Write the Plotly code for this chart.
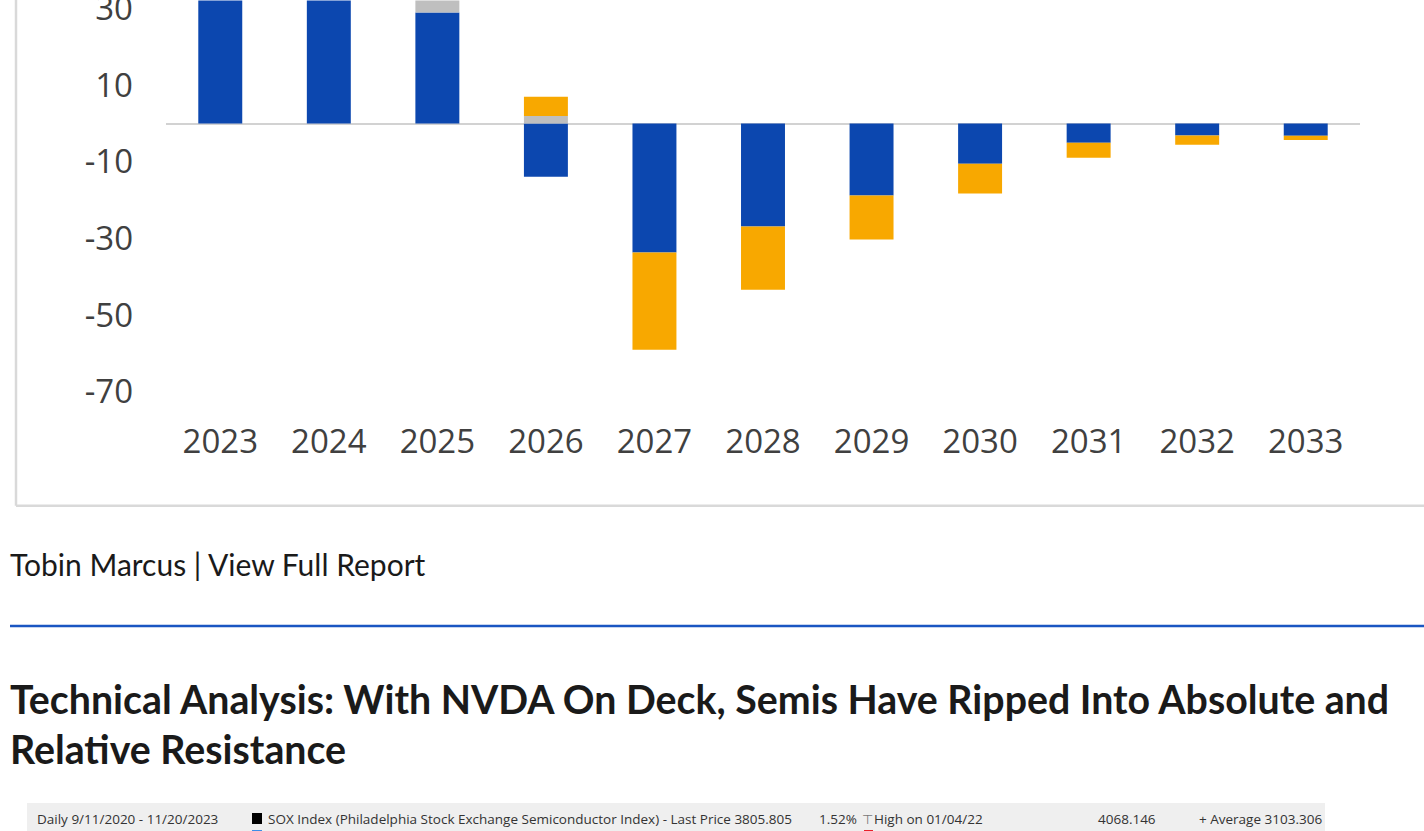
import plotly.graph_objects as go

W, H = 1424, 860

# ---- data ----
years = ["2023", "2024", "2025", "2026", "2027", "2028", "2029", "2030", "2031", "2032", "2033"]
blue_vals = [42.0, 38.0, 29.0, -13.9, -33.7, -26.9, -18.8, -10.5, -5.0, -3.1, -3.2]
gray_vals = [0.0, 0.0, 4.0, 2.0, 0.0, 0.0, 0.0, 0.0, 0.0, 0.0, 0.0]
orange_vals = [0.0, 0.0, 0.0, 5.0, -25.4, -16.5, -11.5, -7.8, -3.9, -2.4, -1.1]
tick_vals = [-70, -50, -30, -10, 10, 30]
tick_text = ["-70", "-50", "-30", "-10", "10", "30"]

byline = "Tobin Marcus | View Full Report"
heading_1 = "Technical Analysis: With NVDA On Deck, Semis Have Ripped Into Absolute and"
heading_2 = "Relative Resistance"
bbg_left = [
    ("Daily 9/11/2020 - 11/20/2023", 35),
    ("SOX Index (Philadelphia Stock Exchange Semiconductor Index) - Last Price 3805.805", 266),
    ("1.52%", 817),
    ("High on 01/04/22", 872),
]
bbg_right = [
    ("4068.146", 1158),
    ("+ Average 3103.306", 1324),
]

VS = 0.968   # vertical factor observed between page and photo
SHIFT = 15   # px the graph div is moved up


def D(y_ref):
    """target picture y -> figure y"""
    return (y_ref + 0.5) / VS


def px(x):
    return x / W


def py(y_ref):
    return 1 - D(y_ref) / H


BLUE = "#0C47AF"
GRAY = "#BFBFBF"
ORANGE = "#F8A800"

fig = go.Figure()
fig.add_trace(go.Bar(x=years, y=blue_vals, marker=dict(color=BLUE, line=dict(width=0)), name="blue"))
fig.add_trace(go.Bar(x=years, y=gray_vals, marker=dict(color=GRAY, line=dict(width=0)), name="gray"))
fig.add_trace(go.Bar(x=years, y=orange_vals, marker=dict(color=ORANGE, line=dict(width=0)), name="orange"))

zero_ref = 123.0
scale_ref = 3.825  # px per unit in the target picture
top_ref, bot_ref = 0.0, 400.0
y_top = (zero_ref - top_ref) / scale_ref
y_bot = -(bot_ref - zero_ref) / scale_ref

tick_font = dict(family="Open Sans, Noto Sans, sans-serif", size=33, color="#404040")

fig.update_layout(
    width=W, height=H,
    margin=dict(l=0, r=0, t=0, b=0),
    paper_bgcolor="white", plot_bgcolor="white",
    barmode="relative", bargap=0.595,
    showlegend=False,
    xaxis=dict(
        domain=[px(166), px(1360)],
        showline=False, showgrid=False, zeroline=False, ticks="",
        tickfont=tick_font, ticklabelstandoff=18,
        fixedrange=True,
    ),
    yaxis=dict(
        domain=[py(bot_ref), py(top_ref)],
        range=[y_bot, y_top],
        tickvals=tick_vals, ticktext=tick_text,
        ticklabeloverflow="allow",
        showgrid=False, showline=False, ticks="",
        zeroline=True, zerolinecolor="#D2D2D2", zerolinewidth=2,
        tickfont=tick_font, ticklabelstandoff=32,
        fixedrange=True,
    ),
)

shapes = []
shapes.append(dict(type="line", xref="paper", yref="paper", x0=px(16), x1=px(16), y0=py(-5), y1=py(505),
                   line=dict(color="#D9D9D9", width=2.5)))
shapes.append(dict(type="line", xref="paper", yref="paper", x0=px(16), x1=px(1440), y0=py(505), y1=py(505),
                   line=dict(color="#D9D9D9", width=2.5)))
shapes.append(dict(type="line", xref="paper", yref="paper", x0=px(10), x1=px(1440), y0=py(625), y1=py(625),
                   line=dict(color="#1A56C2", width=2.5)))
shapes.append(dict(type="rect", xref="paper", yref="paper", x0=px(27), x1=px(1325), y0=py(860), y1=py(802),
                   fillcolor="#EFEFEF", line=dict(width=0), layer="below"))
shapes.append(dict(type="rect", xref="paper", yref="paper", x0=px(252), x1=px(262), y0=py(823), y1=py(812),
                   fillcolor="#000000", line=dict(width=0)))
shapes.append(dict(type="rect", xref="paper", yref="paper", x0=px(252), x1=px(262), y0=py(840), y1=py(829),
                   fillcolor="#3D8EE8", line=dict(width=0)))
shapes.append(dict(type="rect", xref="paper", yref="paper", x0=px(864), x1=px(873), y0=py(840), y1=py(829),
                   fillcolor="#E8202A", line=dict(width=0)))
fig.update_layout(shapes=shapes)

ann = []
ann.append(dict(text=byline, xref="paper", yref="paper", x=px(8), y=py(563), xanchor="left", yanchor="middle",
                showarrow=False, font=dict(family="Lato, Open Sans, sans-serif", size=30, color="#1A1A1A")))
for txt, yy in [(heading_1, 698), (heading_2, 748)]:
    ann.append(dict(text="<b>" + txt + "</b>", xref="paper", yref="paper", x=px(8), y=py(yy),
                    xanchor="left", yanchor="middle", showarrow=False,
                    font=dict(family="Lato, Open Sans, sans-serif", size=39.3, color="#1A1A1A")))
bbg_font = dict(family="Open Sans, sans-serif", size=13.5, color="#333333")
for txt, xx in bbg_left:
    ann.append(dict(text=txt, xref="paper", yref="paper", x=px(xx), y=py(818), xanchor="left", yanchor="middle",
                    showarrow=False, font=bbg_font))
for txt, xx in bbg_right:
    ann.append(dict(text=txt, xref="paper", yref="paper", x=px(xx), y=py(818), xanchor="right", yanchor="middle",
                    showarrow=False, font=bbg_font))
ann.append(dict(text="⊤", xref="paper", yref="paper", x=px(860), y=py(818), xanchor="left", yanchor="middle",
                showarrow=False, font=dict(family="DejaVu Sans, sans-serif", size=13, color="#777777")))
fig.update_layout(annotations=ann)

fig.write_html(
    "out.html",
    config={"displayModeBar": False},
    post_script=(
        "document.body.style.margin='0';document.body.style.overflow='hidden';"
        "var gd=document.getElementById('{plot_id}');"
        "gd.style.position='fixed';gd.style.top='-" + str(SHIFT) + "px';gd.style.left='0px';"
    ),
)
